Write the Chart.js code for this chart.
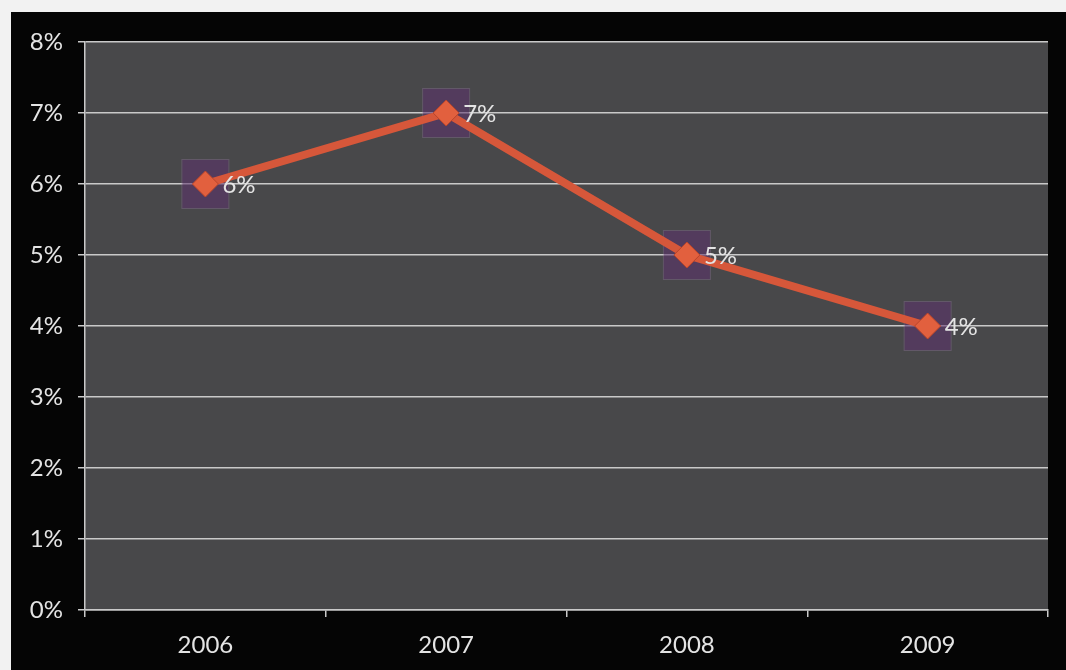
<!DOCTYPE html>
<html>
<head>
<meta charset="utf-8">
<script src="https://cdn.jsdelivr.net/npm/chart.js@4"></script>
<style>
  html, body { margin: 0; padding: 0; background: #f2f2f2; }
  #wrap { width: 1066px; height: 670px; position: relative; }
</style>
</head>
<body>
<div id="wrap"><canvas id="rateChart" width="1066" height="670"></canvas></div>
<script>
const years = ['2006', '2007', '2008', '2009'];
const rates = [6, 7, 5, 4];
const yMin = 0;
const yMax = 8;

const labelColor = '#e4e4e4';
const gridColor = '#c9c9c9';
const lineColor = '#d6573a';
const fontFamily = 'Lato, "Liberation Sans", sans-serif';

// black frame + gray plot panel behind everything
const panelPlugin = {
  id: 'panel',
  beforeDraw(chart) {
    const { ctx, chartArea: a } = chart;
    ctx.save();
    ctx.fillStyle = '#f2f2f2';
    ctx.fillRect(0, 0, chart.width, chart.height);
    ctx.fillStyle = '#050505';
    ctx.fillRect(11, 12, chart.width - 11, chart.height - 12);
    ctx.fillStyle = '#48484a';
    ctx.fillRect(a.left, a.top, a.right - a.left, a.bottom - a.top);
    ctx.restore();
  }
};

// purple halo squares behind each marker
const haloPlugin = {
  id: 'halo',
  beforeDatasetsDraw(chart) {
    const { ctx } = chart;
    const meta = chart.getDatasetMeta(0);
    ctx.save();
    meta.data.forEach(pt => {
      ctx.fillStyle = 'rgba(92, 50, 110, 0.55)';
      ctx.fillRect(pt.x - 23, pt.y - 24, 46, 48);
      ctx.strokeStyle = 'rgba(150, 120, 160, 0.35)';
      ctx.lineWidth = 1;
      ctx.strokeRect(pt.x - 23.5, pt.y - 24.5, 47, 49);
    });
    ctx.restore();
  }
};

// value labels to the right of each point
const valueLabels = {
  id: 'valueLabels',
  afterDatasetsDraw(chart) {
    const { ctx } = chart;
    const meta = chart.getDatasetMeta(0);
    ctx.save();
    ctx.font = '24px ' + fontFamily;
    ctx.fillStyle = labelColor;
    ctx.textAlign = 'left';
    ctx.textBaseline = 'middle';
    meta.data.forEach((pt, i) => {
      ctx.fillText(rates[i] + '%', pt.x + 17, pt.y + 1);
    });
    ctx.restore();
  }
};

new Chart(document.getElementById('rateChart'), {
  type: 'line',
  data: {
    labels: years,
    datasets: [{
      data: rates,
      borderColor: lineColor,
      borderWidth: 8,
      tension: 0,
      pointStyle: 'rectRot',
      pointRadius: 13,
      pointHoverRadius: 13,
      pointBackgroundColor: '#e2603e',
      pointBorderColor: '#b9452b',
      pointBorderWidth: 1
    }]
  },
  options: {
    responsive: false,
    animation: false,
    devicePixelRatio: 1,
    layout: { padding: { left: 12, top: 42, right: 18, bottom: 0 } },
    plugins: {
      legend: { display: false },
      tooltip: { enabled: false }
    },
    scales: {
      x: {
        offset: true,
        afterFit(scale) { scale.height = 60; },
        grid: {
          offset: true,
          drawOnChartArea: false,
          drawTicks: true,
          tickLength: 7,
          color: gridColor,
          lineWidth: 1.5
        },
        border: { display: true, color: gridColor, width: 1.5 },
        ticks: {
          color: labelColor,
          padding: 14,
          font: { family: fontFamily, size: 24 }
        }
      },
      y: {
        min: yMin,
        max: yMax,
        afterFit(scale) { scale.width = 73; },
        grid: {
          color: gridColor,
          lineWidth: 1.5,
          tickLength: 7
        },
        border: { display: true, color: gridColor, width: 1.5 },
        ticks: {
          stepSize: 1,
          color: labelColor,
          padding: 15,
          font: { family: fontFamily, size: 24 },
          callback: v => v + '%'
        }
      }
    }
  },
  plugins: [panelPlugin, haloPlugin, valueLabels]
});
</script>
</body>
</html>
